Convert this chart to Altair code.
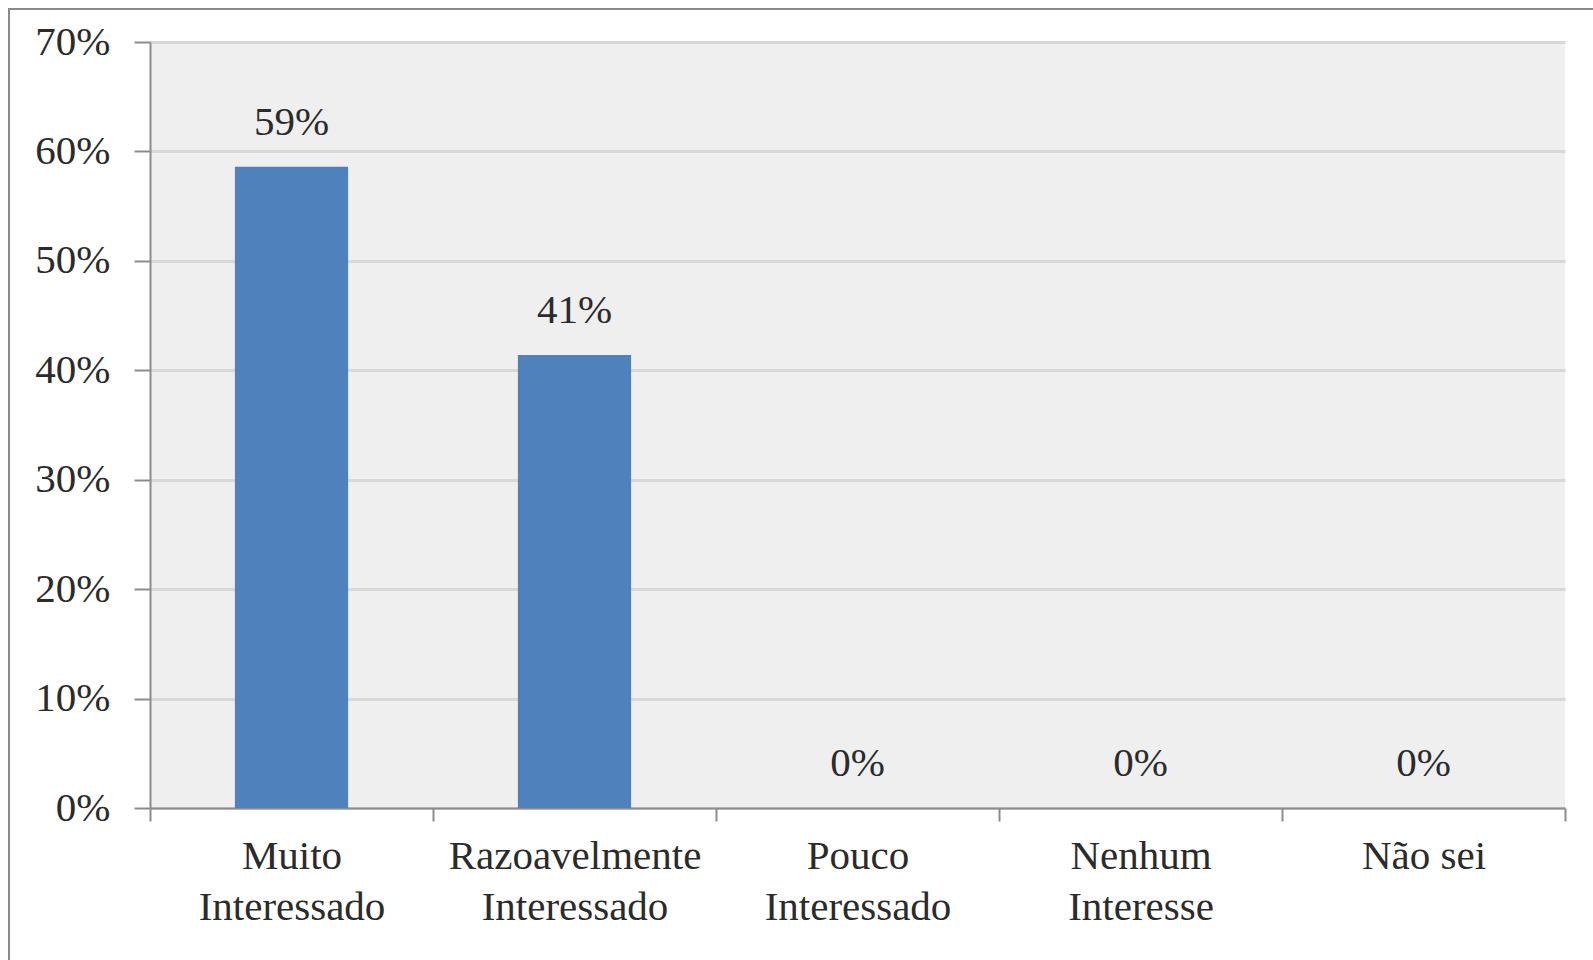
import altair as alt
import pandas as pd

categories = ["Muito Interessado", "Razoavelmente Interessado", "Pouco Interessado", "Nenhum Interesse", "Não sei"]
values = [0.586, 0.414, 0.0, 0.0, 0.0]
y_ticks = [0, 0.1, 0.2, 0.3, 0.4, 0.5, 0.6, 0.7]

df = pd.DataFrame({"cat": categories, "val": values})

FONT = "Times New Roman"
TXT = "#2b2b2b"

x_enc = alt.X(
    "cat:N", sort=categories, title=None,
    scale=alt.Scale(paddingInner=0, paddingOuter=0),
    axis=alt.Axis(
        labelAngle=0, tickBand="extent", labelFont=FONT, labelFontSize=41,
        labelColor=TXT, labelLineHeight=51, labelPadding=15, labelLimit=600,
        labelExpr="datum.label == 'Não sei' ? datum.label : split(datum.label, ' ')",
        domainColor="#8c8c8c", domainWidth=2, tickColor="#8c8c8c", tickWidth=2, tickSize=13,
        grid=False, labelBaseline="top",
    ),
)

y_enc = alt.Y(
    "val:Q", title=None,
    scale=alt.Scale(domain=[0, 0.7]),
    axis=alt.Axis(
        values=y_ticks, format=".0%", labelFont=FONT, labelFontSize=41, labelColor=TXT,
        labelPadding=24, domainColor="#8c8c8c", domainWidth=2, tickColor="#8c8c8c",
        tickWidth=2, tickSize=16, gridColor="#d8d8d8", gridWidth=3,
    ),
)

base = alt.Chart(df)

bars = base.mark_bar(color="#4f81bd", width=alt.RelativeBandSize(0.4)).encode(x=x_enc, y=y_enc)

labels = base.mark_text(
    font=FONT, fontSize=41, color=TXT, baseline="alphabetic", dy=-32
).encode(
    x=x_enc,
    y=y_enc,
    text=alt.Text("val:Q", format=".0%"),
)

border = alt.Chart(pd.DataFrame({"a": [0]})).mark_rect(
    fill=None, stroke="#8a8a8a", strokeWidth=2
).encode(x=alt.value(-141), x2=alt.value(1600), y=alt.value(-33), y2=alt.value(1200))

chart = alt.layer(bars, labels, border).properties(
    width=1415, height=766,
    autosize=alt.AutoSizeParams(type="none"),
    padding={"left": 150, "top": 42, "right": 28, "bottom": 152},
    background="white",
).configure_view(fill="#efefef", stroke=None)

chart.save("out.html", embed_options={"renderer": "svg", "actions": False})
